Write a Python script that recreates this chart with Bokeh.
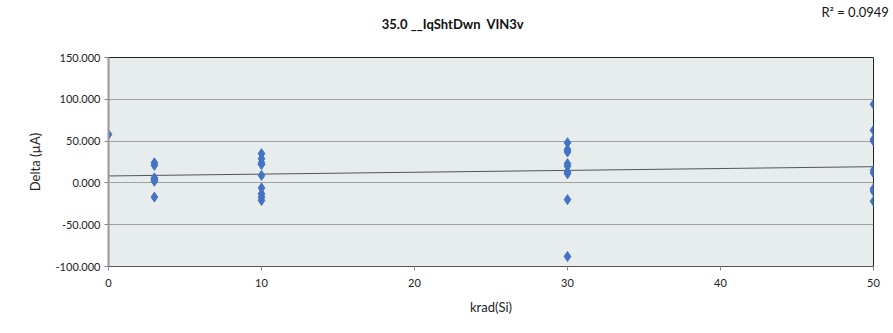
import numpy as np
from bokeh.plotting import figure
from bokeh.models import FixedTicker, NumeralTickFormatter, LinearAxis, ColumnDataSource
from bokeh.embed import file_html
from bokeh.resources import INLINE

# Data (krad(Si) vs Delta in uA)
x_0 = [0]
y_0 = [58]
x_3 = [3] * 6
y_3 = [24, 21, 6, 4, 2, -17]
x_10 = [10] * 9
y_10 = [35, 29, 24, 22, 9, -6, -13, -17, -21]
x_30 = [30] * 9
y_30 = [48, 40, 37, 23, 20, 13, 11, -20, -88]
x_50 = [50] * 9
y_50 = [94, 63, 52, 50, 15, 12, -7, -10, -22]

# Linear trend line as drawn in the reference
trend_intercept = 8.3
trend_slope = 0.222

x_ticks = [0, 10, 20, 30, 40, 50]
y_ticks = [-100, -50, 0, 50, 100, 150]
title_text = "35.0 __IqShtDwn \u00a0VIN3v"
r2_text = "R\u00b2 = 0.0949"
title_pos = 22.5
r2_pos = 48.8

xs = np.array(x_0 + x_3 + x_10 + x_30 + x_50, dtype=float)
ys = np.array(y_0 + y_3 + y_10 + y_30 + y_50, dtype=float)
trend_x = [0, 50]
trend_y = [trend_intercept + trend_slope * v for v in trend_x]

FONT = "Lato"

p = figure(width=893, height=333, output_backend="svg", toolbar_location=None,
           x_range=(0, 50), y_range=(-100, 150),
           min_border_left=108, min_border_right=20, min_border_top=56, min_border_bottom=67)
p.background_fill_color = "#e7ecec"
p.border_fill_color = "white"
p.outline_line_color = "#222222"
p.outline_line_width = 1

p.title.text = ""
p.title.standoff = 0
p.title.text_font_size = "1px"

xa = p.below[0]
ya = p.left[0]


def text_axis(pos, txt, style, standoff):
    ax = LinearAxis(ticker=FixedTicker(ticks=[pos]),
                    major_label_overrides={pos: txt})
    ax.axis_line_color = None
    ax.major_tick_line_color = None
    ax.minor_tick_line_color = None
    ax.major_tick_in = 0
    ax.major_tick_out = 0
    ax.major_label_standoff = standoff
    ax.major_label_text_font = FONT
    ax.major_label_text_font_size = "13px"
    ax.major_label_text_font_style = style
    ax.major_label_text_color = "#111111"
    return ax


p.add_layout(text_axis(title_pos, title_text, "bold", 26), "above")
p.add_layout(text_axis(r2_pos, r2_text, "normal", -7), "above")

p.xgrid.visible = False
p.ygrid.grid_line_color = "#a0a0a0"
p.ygrid.grid_line_width = 1.2
p.ygrid.ticker = FixedTicker(ticks=y_ticks)

xa.ticker = FixedTicker(ticks=x_ticks)
ya.ticker = FixedTicker(ticks=y_ticks)
ya.formatter = NumeralTickFormatter(format="0.000")

for ax in (xa, ya):
    ax.major_label_text_font = FONT
    ax.major_label_text_font_size = "11px"
    ax.major_label_text_color = "#222222"
    ax.axis_label_text_font = FONT
    ax.axis_label_text_font_size = "13px"
    ax.axis_label_text_font_style = "normal"
    ax.axis_label_text_color = "#222222"
    ax.minor_tick_line_color = None
    ax.major_tick_in = 0
    ax.major_tick_out = 4
    ax.major_tick_line_color = "#888888"

xa.axis_label = "krad(Si)"
ya.axis_label = "Delta (\u00b5A)"
xa.axis_line_color = "#555555"
ya.axis_line_color = "#999999"
ya.axis_line_width = 2
xa.major_label_standoff = 8
xa.axis_label_standoff = 9
ya.major_label_standoff = 4
ya.axis_label_standoff = 10

p.line(trend_x, trend_y, line_color="#555555", line_width=1)

src = ColumnDataSource(dict(x=xs, y=ys))
p.scatter("x", "y", source=src, marker="diamond", size=10,
          fill_color="#4472c4", line_color="#4472c4")

open("out.html", "w").write(file_html(p, INLINE))
